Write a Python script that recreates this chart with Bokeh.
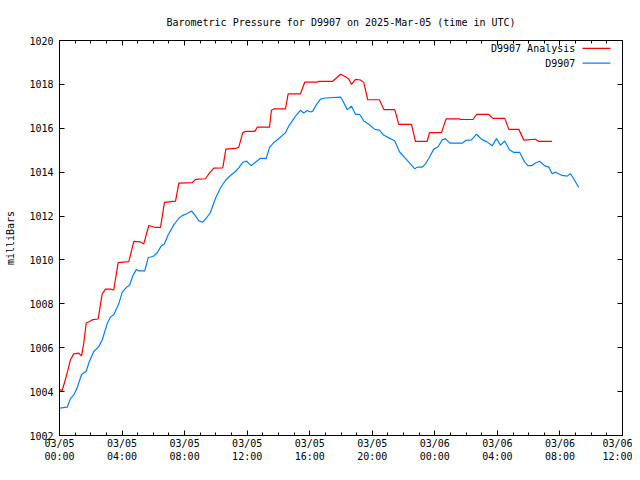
from bokeh.plotting import figure
from bokeh.models import FixedTicker, LinearAxis, Range1d, Label
from bokeh.embed import file_html
from bokeh.resources import INLINE

# ---- data (hours since 2025-03-05 00:00 UTC, pressure in milliBars) ----
analysis_hours = [0.0, 0.17, 0.38, 0.70, 0.91, 1.23, 1.41, 1.55, 1.71, 1.98, 2.13, 2.47,
                  2.56, 2.73, 2.94, 3.26, 3.47, 3.75, 4.43, 4.60, 4.75, 5.18, 5.39, 5.71,
                  6.14, 6.46, 6.71, 7.42, 7.63, 8.48, 8.70, 9.34, 9.55, 9.87, 10.44, 10.64,
                  11.25, 11.46, 11.72, 11.89, 12.49, 12.64, 13.43, 13.55, 13.70, 14.45, 14.62,
                  15.41, 15.68, 16.48, 16.58, 17.47, 17.97, 18.29, 18.50, 18.67, 18.93, 19.25,
                  19.46, 19.71, 20.46, 20.74, 21.44, 21.69, 22.51, 22.76, 23.51, 23.66, 24.42,
                  24.72, 25.58, 25.64, 26.45, 26.66, 27.45, 27.71, 28.47, 28.73, 29.37, 29.69,
                  30.43, 30.65, 31.50]
analysis_mb = [1004.10, 1004.05, 1004.55, 1005.45, 1005.72, 1005.75, 1005.63, 1006.20, 1007.13,
               1007.22, 1007.28, 1007.31, 1007.70, 1008.45, 1008.67, 1008.67, 1008.63, 1009.88,
               1009.92, 1010.40, 1010.85, 1010.82, 1010.73, 1011.57, 1011.48, 1011.48, 1012.62,
               1012.68, 1013.50, 1013.52, 1013.67, 1013.70, 1013.93, 1014.18, 1014.20, 1015.05,
               1015.08, 1015.13, 1015.80, 1015.86, 1015.86, 1016.05, 1016.05, 1016.82, 1016.88,
               1016.88, 1017.57, 1017.57, 1018.10, 1018.10, 1018.14, 1018.14, 1018.46, 1018.35,
               1018.25, 1018.00, 1018.23, 1018.20, 1018.08, 1017.30, 1017.30, 1016.85, 1016.85,
               1016.18, 1016.18, 1015.40, 1015.40, 1015.80, 1015.80, 1016.43, 1016.43, 1016.40,
               1016.40, 1016.63, 1016.63, 1016.45, 1016.45, 1015.95, 1015.95, 1015.46, 1015.50,
               1015.40, 1015.40]

obs_hours = [0.0, 0.49, 0.70, 0.91, 1.13, 1.41, 1.71, 1.87, 2.19, 2.51, 2.73, 3.05, 3.26,
             3.47, 3.79, 4.01, 4.33, 4.48, 4.69, 4.92, 5.07, 5.45, 5.67, 6.03, 6.25, 6.52,
             6.71, 6.95, 7.31, 7.63, 7.85, 8.16, 8.44, 8.65, 8.91, 9.16, 9.38, 9.65, 9.97,
             10.29, 10.61, 10.93, 11.25, 11.46, 11.72, 11.96, 12.26, 12.53, 12.85, 13.22,
             13.43, 13.70, 13.98, 14.45, 14.66, 15.09, 15.41, 15.62, 15.84, 16.05, 16.20,
             16.43, 16.69, 17.01, 17.97, 18.08, 18.40, 18.67, 18.93, 19.20, 19.46, 19.78,
             20.16, 20.46, 20.74, 21.16, 21.44, 21.74, 22.12, 22.44, 22.72, 22.87, 23.19,
             23.40, 23.66, 23.93, 24.21, 24.47, 24.68, 24.96, 25.75, 26.00, 26.34, 26.66,
             26.98, 27.34, 27.67, 27.94, 28.20, 28.47, 28.77, 29.05, 29.43, 29.73, 29.94,
             30.22, 30.43, 30.71, 31.01, 31.29, 31.50, 31.71, 32.14, 32.46, 32.67, 32.88,
             33.20]
obs_mb = [1003.25, 1003.29, 1003.68, 1003.85, 1004.17, 1004.78, 1004.93, 1005.30, 1005.83,
          1006.05, 1006.35, 1007.10, 1007.40, 1007.50, 1008.00, 1008.53, 1008.78, 1008.85,
          1009.28, 1009.57, 1009.50, 1009.50, 1010.10, 1010.18, 1010.33, 1010.65, 1010.73,
          1011.15, 1011.60, 1011.90, 1012.02, 1012.12, 1012.23, 1012.05, 1011.78, 1011.72,
          1011.90, 1012.16, 1012.80, 1013.28, 1013.62, 1013.85, 1014.03, 1014.20, 1014.45,
          1014.50, 1014.30, 1014.45, 1014.63, 1014.63, 1015.13, 1015.35, 1015.50, 1015.80,
          1016.10, 1016.55, 1016.82, 1016.70, 1016.81, 1016.74, 1016.78, 1017.08, 1017.33,
          1017.38, 1017.42, 1017.30, 1016.85, 1017.00, 1016.63, 1016.63, 1016.33, 1016.18,
          1015.95, 1015.92, 1015.68, 1015.53, 1015.42, 1014.93, 1014.63, 1014.38, 1014.15,
          1014.23, 1014.23, 1014.38, 1014.68, 1015.05, 1015.16, 1015.47, 1015.53, 1015.32,
          1015.32, 1015.45, 1015.47, 1015.73, 1015.50, 1015.38, 1015.20, 1015.53, 1015.23,
          1015.42, 1015.02, 1014.90, 1014.90, 1014.48, 1014.30, 1014.30, 1014.42, 1014.50,
          1014.30, 1014.23, 1013.93, 1014.00, 1013.85, 1013.82, 1013.93, 1013.70, 1013.30]

x_tick_hours = [0, 4, 8, 12, 16, 20, 24, 28, 32, 36]
x_tick_labels = ["03/05\n00:00", "03/05\n04:00", "03/05\n08:00", "03/05\n12:00",
                 "03/05\n16:00", "03/05\n20:00", "03/06\n00:00", "03/06\n04:00",
                 "03/06\n08:00", "03/06\n12:00"]
x_minor_hours = list(range(0, 37))
y_ticks = [1002, 1004, 1006, 1008, 1010, 1012, 1014, 1016, 1018, 1020]

series_names = ["D9907 Analysis", "D9907"]
series_colors = ["#ff0000", "#0080ff"]

FONT = "DejaVu Sans Mono"
FS = "10px"

p = figure(width=632, height=464, output_backend="svg", toolbar_location=None,
           x_range=Range1d(0, 36), y_range=Range1d(1002, 1020),
           min_border_left=59, min_border_right=10, min_border_top=40, min_border_bottom=28,
           title="Barometric Pressure for D9907 on 2025-Mar-05 (time in UTC)")
p.title.text_font = FONT
p.title.text_font_size = FS
p.title.text_font_style = "normal"
p.title.align = "center"
p.title.text_color = "black"
p.title.standoff = 26
p.xgrid.visible = False
p.ygrid.visible = False
p.outline_line_color = "black"
p.outline_line_width = 1
p.background_fill_color = "white"
p.border_fill_color = "white"

p.add_layout(LinearAxis(), "above")
p.add_layout(LinearAxis(), "right")

xt = FixedTicker(ticks=x_tick_hours, minor_ticks=x_minor_hours)
yt = FixedTicker(ticks=y_ticks, minor_ticks=[])

for ax in p.xaxis:
    ax.ticker = xt
for ax in p.yaxis:
    ax.ticker = yt

for ax in list(p.xaxis) + list(p.yaxis):
    ax.axis_line_color = "black"
    ax.major_tick_in = 5
    ax.major_tick_out = 0
    ax.minor_tick_in = 3
    ax.minor_tick_out = 0
    ax.major_tick_line_color = "black"
    ax.minor_tick_line_color = "black"
    ax.major_label_text_font = FONT
    ax.major_label_text_font_size = FS
    ax.major_label_text_color = "black"
    ax.axis_label_text_font = FONT
    ax.axis_label_text_font_size = FS
    ax.axis_label_text_font_style = "normal"
    ax.axis_label_text_color = "black"

p.below[0].major_label_overrides = dict(zip(x_tick_hours, x_tick_labels))
p.below[0].major_label_standoff = 2
p.left[0].major_label_standoff = 6
p.left[0].axis_label = "milliBars"
p.left[0].axis_label_standoff = 10
# mirrored tick marks only (no labels) on the top and right edges
p.above[-1].major_label_overrides = {t: "" for t in x_tick_hours}
p.right[0].major_label_overrides = {t: "" for t in y_ticks}
for ax in (p.above[-1], p.right[0]):
    ax.major_label_standoff = 0

p.line(analysis_hours, analysis_mb, line_color=series_colors[0], line_width=1.2)
p.line(obs_hours, obs_mb, line_color=series_colors[1], line_width=1.2)

# key (text to the left of the sample line, as in the original)
key_y = [1019.64, 1018.97]
key_text_x = 32.98
key_line_x = [33.44, 35.23]
for name, col, ky in zip(series_names, series_colors, key_y):
    p.add_layout(Label(x=key_text_x, y=ky, text=name, text_align="right",
                       text_baseline="middle", text_font=FONT, text_font_size=FS,
                       text_color="black"))
    p.line(key_line_x, [ky, ky], line_color=col, line_width=1.2)

open("out.html", "w").write(file_html(p, INLINE))
